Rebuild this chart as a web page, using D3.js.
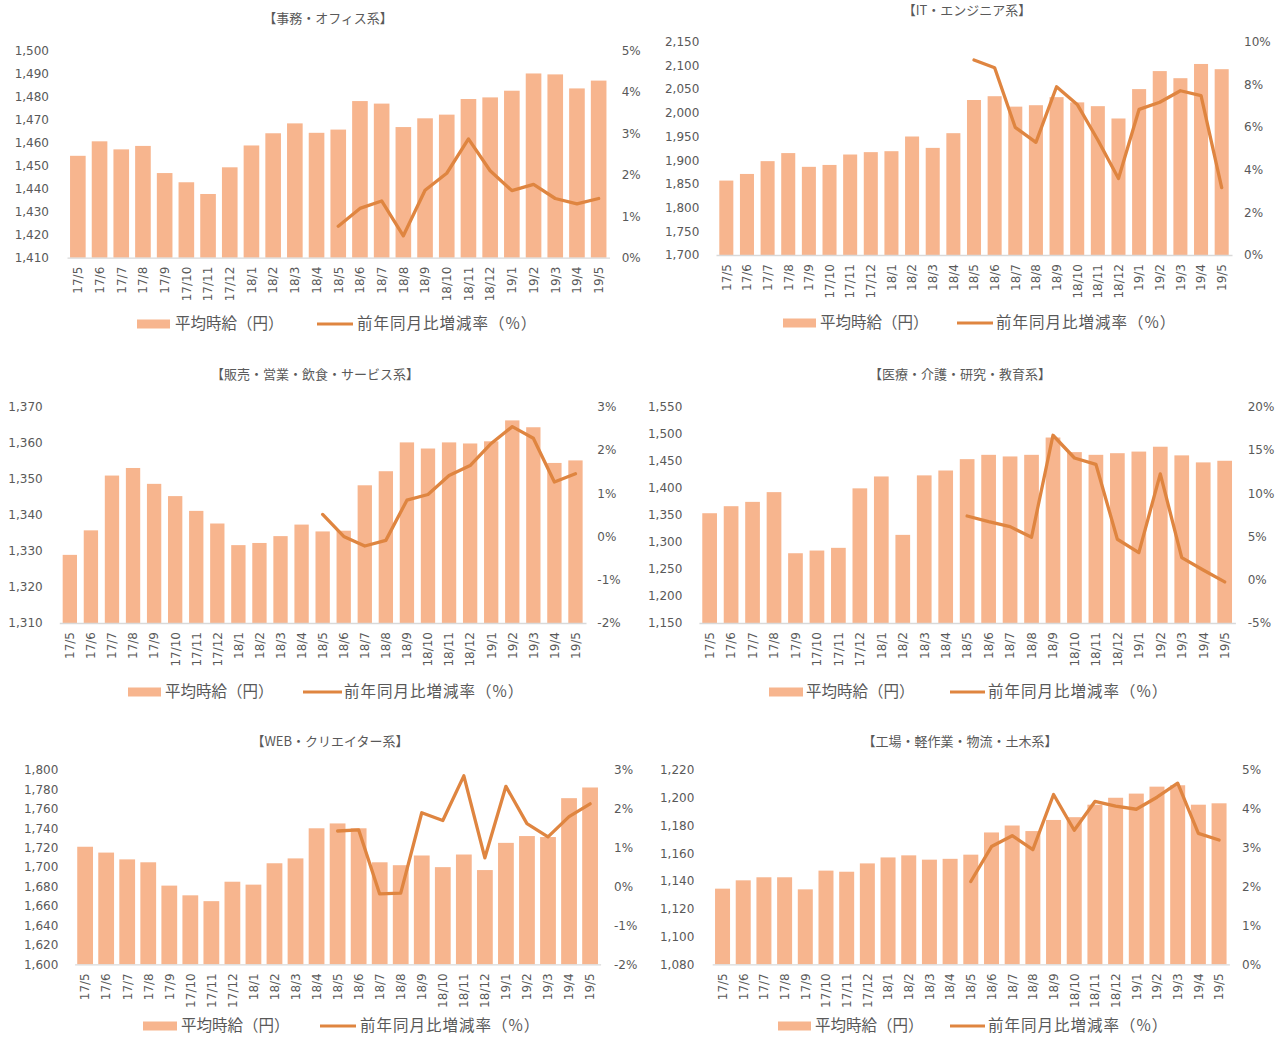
<!DOCTYPE html>
<html>
<head>
<meta charset="utf-8">
<script src="https://cdnjs.cloudflare.com/ajax/libs/d3/7.8.5/d3.min.js"></script>
<style>
  body { margin: 0; background: #fff; }
  svg text { fill: #595959; }
</style>
</head>
<body>
<svg id="chart" width="1286" height="1039"></svg>
<script>
// months shared by every panel
var months = ["17/5","17/6","17/7","17/8","17/9","17/10","17/11","17/12",
  "18/1","18/2","18/3","18/4","18/5","18/6","18/7","18/8","18/9","18/10","18/11","18/12",
  "19/1","19/2","19/3","19/4","19/5"];

var titles = ["【事務・オフィス系】", "【IT・エンジニア系】", "【販売・営業・飲食・サービス系】",
  "【医療・介護・研究・教育系】", "【WEB・クリエイター系】", "【工場・軽作業・物流・土木系】"];

var barLabel = "平均時給（円）";
var lineLabel = "前年同月比増減率（%）";

// average hourly wage (yen)
var wageOffice = [1454.3,1460.6,1457.1,1458.6,1446.8,1442.8,1437.7,1449.3,1458.8,1464.1,1468.4,1464.3,
  1465.7,1478.1,1477,1466.8,1470.6,1472.2,1479,1479.7,1482.6,1490.1,1489.7,1483.6,1487];
var wageIT = [1857,1871,1898,1915,1886,1890,1912,1917,1919,1950,1926,1957,
  2027,2035,2013,2016,2033,2022,2014,1988,2050,2088,2073,2103,2092];
var wageSales = [1328.9,1335.7,1350.9,1353,1348.6,1345.2,1341.1,1337.6,1331.6,1332.2,1334.1,1337.3,
  1335.4,1335.6,1348.2,1352.1,1360.1,1358.4,1360.1,1359.8,1360.4,1366.2,1364.3,1354.4,1355.1];
var wageMedical = [1353,1366,1374,1392,1279,1284,1289,1399,1421,1313,1423,1432,
  1453,1461,1458,1461,1493,1466,1461,1464,1467,1476,1460,1447,1450];
var wageWeb = [1721,1715,1708,1705,1681,1671,1665,1685,1682,1704,1709,1740,
  1745,1740,1705,1702,1712,1700,1713,1697,1725,1732,1731,1771,1782];
var wageFactory = [1134.5,1140.5,1142.7,1142.7,1134,1147.5,1146.7,1152.7,1157,1158.5,1155.4,1156,
  1159,1175,1180,1176,1184,1186,1195,1200,1203,1208,1209,1195,1196];

// year-on-year change (%), only from 18/5
var rateOffice = [null,null,null,null,null,null,null,null,null,null,null,null,
  0.76,1.19,1.37,0.53,1.63,2.04,2.87,2.10,1.62,1.77,1.43,1.30,1.43];
var rateIT = [null,null,null,null,null,null,null,null,null,null,null,null,
  9.14,8.78,5.98,5.28,7.89,7.06,5.39,3.59,6.83,7.16,7.70,7.47,3.16];
var rateSales = [null,null,null,null,null,null,null,null,null,null,null,null,
  0.51,0.0,-0.22,-0.09,0.84,0.97,1.41,1.64,2.15,2.54,2.27,1.26,1.45];
var rateMedical = [null,null,null,null,null,null,null,null,null,null,null,null,
  7.37,6.72,6.14,4.91,16.7,14.07,13.34,4.68,3.14,12.23,2.56,1.13,-0.25];
var rateWeb = [null,null,null,null,null,null,null,null,null,null,null,null,
  1.43,1.46,-0.19,-0.17,1.90,1.70,2.85,0.74,2.58,1.62,1.28,1.80,2.13];
var rateFactory = [null,null,null,null,null,null,null,null,null,null,null,null,
  2.13,3.03,3.31,2.95,4.37,3.45,4.19,4.07,3.99,4.30,4.66,3.37,3.20];

// axis ticks [min, max, step]
var leftTicks = [[1410,1500,10],[1700,2150,50],[1310,1370,10],[1150,1550,50],[1600,1800,20],[1080,1220,20]];
var rightTicks = [[0,5,1],[0,10,2],[-2,3,1],[-5,20,5],[-2,3,1],[0,5,1]];

var wages = [wageOffice, wageIT, wageSales, wageMedical, wageWeb, wageFactory];
var rates = [rateOffice, rateIT, rateSales, rateMedical, rateWeb, rateFactory];

// panel geometry
var layout = [
  {x0: 67, x1: 609.5, top: 50.7, bottom: 257.7, pad: 0.28, lx: 49, rx: 621.7, tx: 328, ty: 18,
    legY: 324, swX: 137, swW: 33, btX: 175, lnX: 317, lnW: 36, ltX: 357},
  {x0: 716, x1: 1232, top: 41.7, bottom: 255, pad: 0.32, lx: 699.3, rx: 1244, tx: 967, ty: 10.5,
    legY: 323, swX: 783, swW: 33, btX: 820, lnX: 957, lnW: 36, ltX: 996},
  {x0: 59.3, x1: 586, top: 406.7, bottom: 623, pad: 0.32, lx: 42.7, rx: 597.3, tx: 315, ty: 374,
    legY: 692, swX: 128, swW: 33, btX: 165, lnX: 303, lnW: 39, ltX: 344},
  {x0: 698.9, x1: 1235.4, top: 406.7, bottom: 623, pad: 0.315, lx: 682.3, rx: 1247.7, tx: 960, ty: 374,
    legY: 692, swX: 769, swW: 34, btX: 806, lnX: 950, lnW: 35, ltX: 988},
  {x0: 74.6, x1: 600.6, top: 770, bottom: 964.3, pad: 0.25, lx: 58.3, rx: 614, tx: 330, ty: 741,
    legY: 1026, swX: 143, swW: 34, btX: 181, lnX: 320, lnW: 36, ltX: 360},
  {x0: 712.2, x1: 1229.4, top: 770, bottom: 964.3, pad: 0.275, lx: 694.3, rx: 1242, tx: 960, ty: 741,
    legY: 1026, swX: 778, swW: 33, btX: 815, lnX: 950, lnW: 35, ltX: 988}
];

var barColor = "#f7b58e", lineColor = "#df8540";
var numFont = "'DejaVu Sans', Verdana, sans-serif";
var jpFont = "'Noto Sans CJK JP', sans-serif";

var svg = d3.select("#chart");

function tickRange(t) {
  return d3.range(t[0], t[1] + t[2] / 2, t[2]);
}

function drawPanel(i) {
  var L = layout[i];
  var g = svg.append("g").attr("class", "panel");
  var rows = months.map(function(m, k) { return {m: m, w: wages[i][k], r: rates[i][k]}; });

  var x = d3.scaleBand().domain(months).range([L.x0, L.x1])
    .paddingInner(L.pad).paddingOuter(L.pad / 2);
  var yL = d3.scaleLinear().domain([leftTicks[i][0], leftTicks[i][1]]).range([L.bottom, L.top]);
  var yR = d3.scaleLinear().domain([rightTicks[i][0], rightTicks[i][1]]).range([L.bottom, L.top]);

  // bars
  g.append("g").selectAll("rect").data(rows).join("rect")
    .attr("x", function(d) { return x(d.m); })
    .attr("y", function(d) { return yL(d.w); })
    .attr("width", x.bandwidth())
    .attr("height", function(d) { return L.bottom - yL(d.w); })
    .attr("fill", barColor);

  // x axis
  var xa = g.append("g").attr("transform", "translate(0," + L.bottom + ")")
    .call(d3.axisBottom(x).tickSize(0).tickSizeOuter(0));
  xa.select(".domain").attr("stroke", "#d9d9d9").attr("stroke-width", 1.3);
  xa.selectAll("text")
    .attr("transform", "rotate(-90)")
    .attr("text-anchor", "end")
    .attr("x", -9).attr("y", 0).attr("dy", "0.36em")
    .style("font-family", numFont).style("font-size", "12px").attr("fill", "#595959");

  // left axis
  var la = g.append("g").attr("transform", "translate(" + L.lx + ",0)")
    .call(d3.axisLeft(yL).tickValues(tickRange(leftTicks[i])).tickSize(0).tickPadding(0)
      .tickFormat(d3.format(",")));
  la.select(".domain").remove();
  la.selectAll("text").style("font-family", numFont).style("font-size", "12px").attr("fill", "#595959");

  // right axis
  var ra = g.append("g").attr("transform", "translate(" + L.rx + ",0)")
    .call(d3.axisRight(yR).tickValues(tickRange(rightTicks[i])).tickSize(0).tickPadding(0)
      .tickFormat(function(d) { return d + "%"; }));
  ra.select(".domain").remove();
  ra.selectAll("text").style("font-family", numFont).style("font-size", "12px").attr("fill", "#595959");

  // yoy line
  var line = d3.line()
    .defined(function(d) { return d.r != null; })
    .x(function(d) { return x(d.m) + x.bandwidth() / 2; })
    .y(function(d) { return yR(d.r); });
  g.append("path").datum(rows)
    .attr("d", line)
    .attr("fill", "none")
    .attr("stroke", lineColor)
    .attr("stroke-width", 3.3)
    .attr("stroke-linejoin", "round")
    .attr("stroke-linecap", "round");

  // title
  g.append("text").attr("x", L.tx).attr("y", L.ty).attr("dy", "0.35em")
    .attr("text-anchor", "middle")
    .style("font-family", jpFont).style("font-size", "13px")
    .text(titles[i]);

  // legend
  g.append("rect").attr("x", L.swX).attr("y", L.legY - 4.5).attr("width", L.swW).attr("height", 9)
    .attr("fill", barColor);
  g.append("text").attr("x", L.btX).attr("y", L.legY).attr("dy", "0.35em")
    .style("font-family", jpFont).style("font-size", "15.5px").text(barLabel);
  g.append("line").attr("x1", L.lnX).attr("x2", L.lnX + L.lnW).attr("y1", L.legY).attr("y2", L.legY)
    .attr("stroke", lineColor).attr("stroke-width", 3);
  g.append("text").attr("x", L.ltX).attr("y", L.legY).attr("dy", "0.35em")
    .style("font-family", jpFont).style("font-size", "15.5px").style("letter-spacing", "1px")
    .text(lineLabel);
}

for (var i = 0; i < layout.length; i++) {
  drawPanel(i);
}
</script>
</body>
</html>
